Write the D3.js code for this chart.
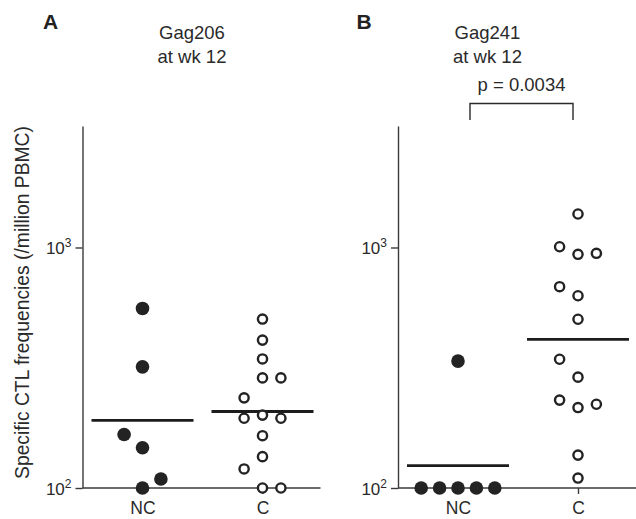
<!DOCTYPE html>
<html>
<head>
<meta charset="utf-8">
<script src="https://cdn.jsdelivr.net/npm/d3@7"></script>
<style>
  body { margin: 0; background: #fff; }
  svg { display: block; font-family: "Liberation Sans", Arial, Helvetica, sans-serif; }
  .axis path, .axis line { stroke: #3a3a3a; stroke-width: 1.4; }
  .axis text { fill: #2a2a2a; }
</style>
</head>
<body>
<script>
// data (frequencies per million PBMC)
// slot = column in the dot plot (-2..2) as drawn in the original
const groups = ["NC", "C"];
const yTicks = [100, 1000];

const gag206NC = [558, 319, 167, 147, 109, 100];
const gag206NCslot = [0, 0, -1, 0, 1, 0];
const gag206C = [504, 412, 344, 287, 287, 237, 195, 201, 195, 165, 135, 120, 100, 100];
const gag206Cslot = [0, 0, 0, 0, 1, -1, -1, 0, 1, 0, 0, -1, 0, 1];
const gag206Median = {NC: 191, C: 208};

const gag241NC = [337, 100, 100, 100, 100, 100];
const gag241NCslot = [0, -2, -1, 0, 1, 2];
const gag241C = [1378, 1007, 937, 946, 687, 630, 503, 343, 289, 232, 216, 223, 137, 110];
const gag241Cslot = [0, -1, 0, 1, -1, 0, 0, -1, 0, -1, 0, 1, 0, 0];
const gag241Median = {NC: 124, C: 415};

const panels = [
  {letter: "A", title: ["Gag206", "at wk 12"], nc: gag206NC, ncSlot: gag206NCslot,
   c: gag206C, cSlot: gag206Cslot, median: gag206Median, p: null},
  {letter: "B", title: ["Gag241", "at wk 12"], nc: gag241NC, ncSlot: gag241NCslot,
   c: gag241C, cSlot: gag241Cslot, median: gag241Median, p: "p = 0.0034"}
];

let width = 636, height = 519;
let svg = d3.select("body").append("svg")
  .attr("width", width)
  .attr("height", height);

// shared log y scale
let y = d3.scaleLog()
  .domain([100, 3200])
  .range([488, 126]);

let slotX = d3.scaleLinear().domain([-1, 1]).range([-18.4, 18.4]);

// y label
svg.append("text")
  .attr("transform", "translate(28.5,302.5) rotate(-90)")
  .attr("text-anchor", "middle")
  .attr("font-size", 19.3)
  .attr("fill", "#2a2a2a")
  .text("Specific CTL frequencies (/million PBMC)");

let panelX = [82.5, 398];
let titleDx = [109.5, 89.5];

panels.forEach(function(p, i) {
  let g = svg.append("g").attr("transform", "translate(" + panelX[i] + ",0)");

  let x = d3.scalePoint()
    .domain(groups)
    .range([60, 180]);

  // panel letter
  g.append("text")
    .attr("x", i === 0 ? -39.5 : -41.5)
    .attr("y", 29)
    .attr("font-size", 21)
    .attr("font-weight", "bold")
    .attr("fill", "#222")
    .text(p.letter);

  // title
  p.title.forEach(function(t, k) {
    g.append("text")
      .attr("x", titleDx[i])
      .attr("y", 39 + k * 24)
      .attr("text-anchor", "middle")
      .attr("font-size", 18.5)
      .attr("fill", "#2a2a2a")
      .text(t);
  });

  // y axis
  let ya = g.append("g").attr("class", "axis")
    .call(d3.axisLeft(y).tickValues(yTicks).tickSize(7).tickSizeOuter(0).tickFormat(""));
  ya.selectAll(".tick text").remove();
  ya.selectAll(".tick").append("text")
    .attr("x", -11)
    .attr("dy", "0.38em")
    .attr("text-anchor", "end")
    .attr("font-size", 17)
    .attr("fill", "#2a2a2a")
    .each(function(d) {
      let t = d3.select(this);
      t.append("tspan").text("10");
      t.append("tspan")
        .attr("font-size", 12)
        .attr("dy", "-0.6em")
        .text(Math.round(Math.log10(d)));
    });

  // x axis baseline + category ticks
  g.append("line")
    .attr("class", "axis")
    .attr("x1", 0).attr("x2", 238)
    .attr("y1", y(100)).attr("y2", y(100))
    .attr("stroke", "#3a3a3a").attr("stroke-width", 1.4);
  let xa = g.append("g").attr("class", "axis")
    .attr("transform", "translate(0," + y(100) + ")")
    .call(d3.axisBottom(x).tickSize(6).tickPadding(7.5));
  xa.select(".domain").remove();
  xa.selectAll(".tick text").attr("font-size", 17.5);

  // median lines
  groups.forEach(function(k) {
    g.append("line")
      .attr("x1", x(k) - 51).attr("x2", x(k) + 51)
      .attr("y1", y(p.median[k])).attr("y2", y(p.median[k]))
      .attr("stroke", "#1c1c1c").attr("stroke-width", 2.8);
  });

  // NC: filled
  g.selectAll(".nc").data(p.nc).enter().append("circle")
    .attr("class", "nc")
    .attr("cx", function(d, j) { return x("NC") + slotX(p.ncSlot[j]); })
    .attr("cy", function(d) { return y(d); })
    .attr("r", 6.8)
    .attr("fill", "#232323");

  // C: open
  g.selectAll(".c").data(p.c).enter().append("circle")
    .attr("class", "c")
    .attr("cx", function(d, j) { return x("C") + slotX(p.cSlot[j]); })
    .attr("cy", function(d) { return y(d); })
    .attr("r", 4.6)
    .attr("fill", "#fff")
    .attr("stroke", "#232323")
    .attr("stroke-width", 2.4);

  // significance bracket
  if (p.p) {
    let x1 = x("NC") + 12, x2 = x("C") - 5;
    g.append("path")
      .attr("d", "M" + x1 + ",120V103.5H" + x2 + "V120")
      .attr("fill", "none")
      .attr("stroke", "#2a2a2a")
      .attr("stroke-width", 1.4);
    g.append("text")
      .attr("x", (x1 + x2) / 2)
      .attr("y", 91)
      .attr("text-anchor", "middle")
      .attr("font-size", 18.5)
      .attr("fill", "#2a2a2a")
      .text(p.p);
  }
});
</script>
</body>
</html>
